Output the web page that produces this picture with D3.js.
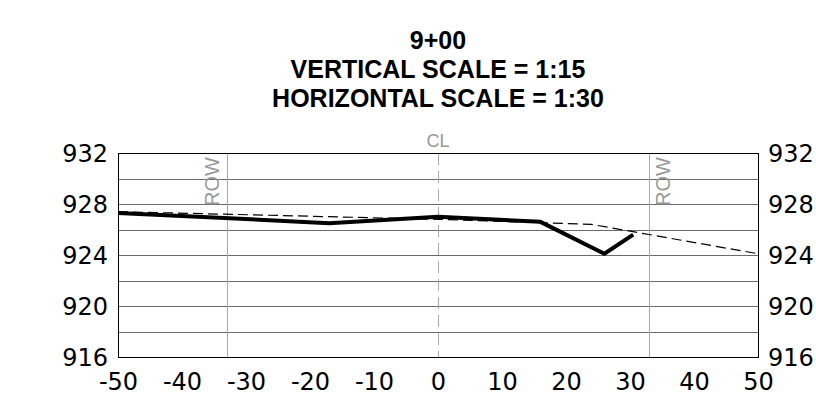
<!DOCTYPE html>
<html>
<head>
<meta charset="utf-8">
<script src="https://cdn.jsdelivr.net/npm/d3@7"></script>
<style>
  body { margin: 0; background: #fff; }
  svg { display: block; }
</style>
</head>
<body>
<div id="graphicContainer"></div>
<script>
// cross-section 9+00
var titleLines = ["9+00", "VERTICAL SCALE = 1:15", "HORIZONTAL SCALE = 1:30"]

var offsetTicks = [-50, -40, -30, -20, -10, 0, 10, 20, 30, 40, 50]
var elevTicks = [916, 920, 924, 928, 932]
var gridElevs = [918, 920, 922, 924, 926, 928, 930]

// existing ground (thick)
var groundOffset = [-50, -17, 0, 16, 26, 30.5]
var groundElev = [927.3, 926.5, 927.0, 926.6, 924.1, 925.6]

// proposed / design (dashed)
var designOffset = [-50, 0, 24, 50]
var designElev = [927.4, 926.8, 926.4, 924.1]

var rowOffsets = [-33, 33]

var width = 816, height = 401
var margin = { top: 153, right: 58, bottom: 44, left: 118 }

var svg = d3.select("#graphicContainer").append("svg")
  .attr("width", width)
  .attr("height", height)

var x = d3.scaleLinear()
  .domain([-50, 50])
  .range([margin.left, width - margin.right])

var y = d3.scaleLinear()
  .domain([916, 932])
  .range([height - margin.bottom, margin.top])

// title
svg.append("g")
  .selectAll("text")
  .data(titleLines)
  .enter()
  .append("text")
  .attr("x", x(0))
  .attr("y", (d, i) => 49 + i * 29)
  .attr("text-anchor", "middle")
  .attr("font-family", "Liberation Sans, Arial, sans-serif")
  .attr("font-weight", "bold")
  .attr("font-size", 25)
  .attr("fill", "#000")
  .text(d => d)

// horizontal grid
svg.append("g")
  .selectAll("line")
  .data(gridElevs)
  .enter()
  .append("line")
  .attr("x1", x(-50))
  .attr("x2", x(50))
  .attr("y1", d => Math.round(y(d)) + 0.5)
  .attr("y2", d => Math.round(y(d)) + 0.5)
  .style("stroke", "#6a6a6a")
  .style("stroke-width", 1)

// ROW lines
svg.append("g")
  .selectAll("line")
  .data(rowOffsets)
  .enter()
  .append("line")
  .attr("x1", d => Math.round(x(d)) + 0.5)
  .attr("x2", d => Math.round(x(d)) + 0.5)
  .attr("y1", y(932))
  .attr("y2", y(916))
  .style("stroke", "#aaa")
  .style("stroke-width", 1)

svg.append("g")
  .selectAll("text")
  .data(rowOffsets)
  .enter()
  .append("text")
  .attr("transform", d => `translate(${d < 0 ? x(d) - 8 : x(d) + 21},${y(932) + 4}) rotate(-90)`)
  .attr("text-anchor", "end")
  .attr("font-family", "Liberation Sans, Arial, sans-serif")
  .attr("font-size", 20)
  .attr("fill", "#999")
  .text("ROW")

// centre line
svg.append("line")
  .attr("x1", Math.round(x(0)) + 0.5)
  .attr("x2", Math.round(x(0)) + 0.5)
  .attr("y1", y(932))
  .attr("y2", y(916))
  .style("stroke", "#aaa")
  .style("stroke-width", 1)
  .style("stroke-dasharray", "12,6")

svg.append("text")
  .attr("x", x(0))
  .attr("y", y(932) - 6)
  .attr("text-anchor", "middle")
  .attr("font-family", "Liberation Sans, Arial, sans-serif")
  .attr("font-size", 18)
  .attr("fill", "#999")
  .text("CL")

// frame
svg.append("rect")
  .attr("x", x(-50) + 0.5)
  .attr("y", y(932) + 0.5)
  .attr("width", x(50) - x(-50))
  .attr("height", y(916) - y(932))
  .attr("fill", "none")
  .style("stroke", "#000")
  .style("stroke-width", 1)

var line = d3.line()
  .x(d => x(d[0]))
  .y(d => y(d[1]))

var design = designOffset.map((d, i) => [d, designElev[i]])
var ground = groundOffset.map((d, i) => [d, groundElev[i]])

svg.append("path")
  .datum(design)
  .attr("d", line)
  .attr("fill", "none")
  .style("stroke", "#000")
  .style("stroke-width", 1.2)
  .style("stroke-dasharray", "10,5")

svg.append("path")
  .datum(ground)
  .attr("d", line)
  .attr("fill", "none")
  .style("stroke", "#000")
  .style("stroke-width", 4)

// axes
var axisFont = "DejaVu Sans, Verdana, sans-serif"

var styleAxis = g => {
  g.select(".domain").remove()
  g.selectAll("text")
    .attr("font-family", axisFont)
    .attr("font-size", 24)
    .attr("fill", "#000")
}

svg.append("g")
  .attr("transform", `translate(${x(-50)},0)`)
  .call(d3.axisLeft(y).tickValues(elevTicks).tickSize(0).tickPadding(10))
  .call(styleAxis)
  .selectAll("text").attr("dy", "0.37em")

svg.append("g")
  .attr("transform", `translate(${x(50)},0)`)
  .call(d3.axisRight(y).tickValues(elevTicks).tickSize(0).tickPadding(10))
  .call(styleAxis)
  .selectAll("text").attr("dy", "0.37em")

svg.append("g")
  .attr("transform", `translate(0,${y(916)})`)
  .call(d3.axisBottom(x).tickValues(offsetTicks).tickFormat(d => String(d)).tickSize(0).tickPadding(16))
  .call(styleAxis)
</script>
</body>
</html>
